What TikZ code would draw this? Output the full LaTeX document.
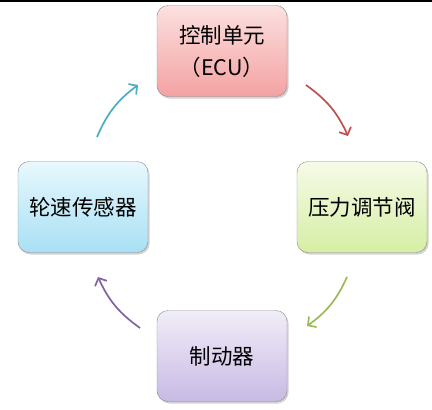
\documentclass[tikz,border=0pt]{standalone}
\usepackage{fontspec}
\newfontfamily\cjk{Noto Sans CJK SC}
\usepackage{tikz}
\usetikzlibrary{arrows.meta,shadows}
\definecolor{pinkT}{HTML}{FCE0E0}
\definecolor{pinkB}{HTML}{F4A2A2}
\definecolor{greenT}{HTML}{F6FBE8}
\definecolor{greenB}{HTML}{D6EEA4}
\definecolor{blueT}{HTML}{E8F8FD}
\definecolor{blueB}{HTML}{A8E0F4}
\definecolor{purpleT}{HTML}{F1EDF8}
\definecolor{purpleB}{HTML}{C8BAE4}
\definecolor{arrRed}{HTML}{C0504D}
\definecolor{arrGreen}{HTML}{9BBB59}
\definecolor{arrPurple}{HTML}{8064A2}
\definecolor{arrTeal}{HTML}{4BACC6}

\begin{document}
\begin{tikzpicture}[x=1pt,y=-1pt,% pixel units, y grows downwards
			every node/.style={
				align=center,		% so that "\\" breaks the line
				font=\cjk\fontsize{21.5}{32}\selectfont
			},
			unit/.style={
				rectangle,rounded corners=11pt,draw=black!45,
				minimum width=130pt,minimum height=91pt,
				drop shadow={shadow xshift=1.5pt,shadow yshift=-2pt,opacity=.35}
			},
			every edge/.style={draw,line width=1.7pt,-{Straight Barb[length=6pt,width=13pt]}}
		]
		\useasboundingbox (0,0) rectangle (432,410);
		\draw[line width=1.6pt] (0,0.8) -- (432,0.8);
		% the four units
		\node[unit,top color=pinkT,bottom color=pinkB](R1) at (222,51){控制单元\\（ECU）};
		\node[unit,top color=greenT,bottom color=greenB](R2) at (362,207){压力调节阀};
		\node[unit,top color=purpleT,bottom color=purpleB](R3) at (222,356){制动器};
		\node[unit,top color=blueT,bottom color=blueB](R4) at (83,207){轮速传感器};
		% arrow ends
		\coordinate (a1) at (306,85);  \coordinate (b1) at (348,136);
		\coordinate (a2) at (347,277); \coordinate (b2) at (307,326);
		\coordinate (a3) at (140,328); \coordinate (b3) at (98,277);
		\coordinate (a4) at (97,137);  \coordinate (b4) at (138,85);
		\path
		(a1)edge [arrRed,bend left=15]	(b1)
		(a2)edge [arrGreen,bend left=15]	(b2)
		(a3)edge [arrPurple,bend left=15]	(b3)
		(a4)edge [arrTeal,bend left=15]	(b4)
		;
	\end{tikzpicture}
\end{document}
